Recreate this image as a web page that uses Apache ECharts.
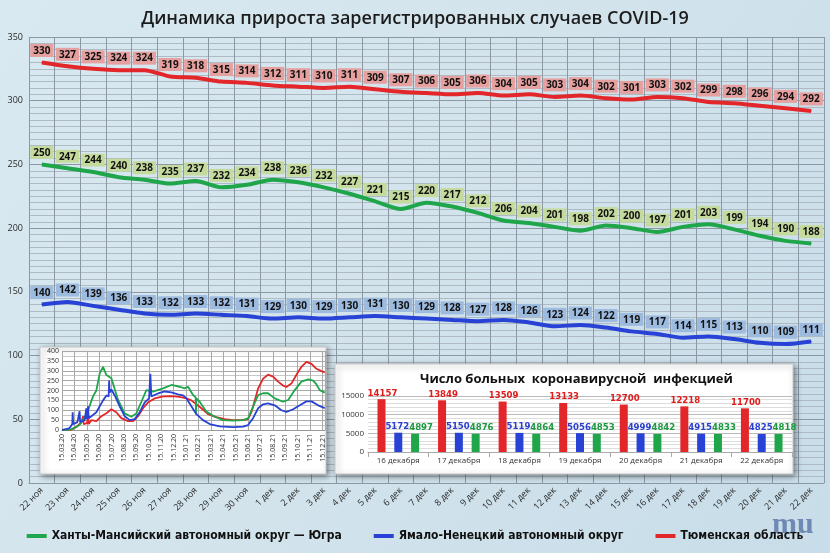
<!DOCTYPE html>
<html><head><meta charset="utf-8">
<script src="https://cdn.jsdelivr.net/npm/echarts@6.0.0/dist/echarts.min.js"></script>
<style>html,body{margin:0;padding:0;background:#d3e5ef;}#c{width:830px;height:553px;}</style>
</head><body><div id="c"></div>
<script>
// ---- main chart data ----
const days = ['22 ноя','23 ноя','24 ноя','25 ноя','26 ноя','27 ноя','28 ноя','29 ноя','30 ноя',
  '1 дек','2 дек','3 дек','4 дек','5 дек','6 дек','7 дек','8 дек','9 дек','10 дек','11 дек','12 дек',
  '13 дек','14 дек','15 дек','16 дек','17 дек','18 дек','19 дек','20 дек','21 дек','22 дек'];
const tyumen = [330,327,325,324,324,319,318,315,314,312,311,310,311,309,307,306,305,306,304,305,303,304,302,301,303,302,299,298,296,294,292];
const khmao  = [250,247,244,240,238,235,237,232,234,238,236,232,227,221,215,220,217,212,206,204,201,198,202,200,197,201,203,199,194,190,188];
const yanao  = [140,142,139,136,133,132,133,132,131,129,130,129,130,131,130,129,128,127,128,126,123,124,122,119,117,114,115,113,110,109,111];

// ---- inset line chart (x = months since 15.03.20) ----
const insetLabels = ['15.03.20','15.04.20','15.05.20','15.06.20','15.07.20','15.08.20','15.09.20','15.10.20','15.11.20','15.12.20',
  '15.01.21','15.02.21','15.03.21','15.04.21','15.05.21','15.06.21','15.07.21','15.08.21','15.09.21','15.10.21','15.11.21','15.12.21'];
const insetGreen = [[0,0],[0.75,3],[1.42,25],[2.02,85],[2.5,170],[2.77,200],[3.04,287],[3.31,320],[3.58,278],[3.98,262],[4.52,152],
  [5.05,84],[5.59,67],[5.99,84],[6.4,143],[6.8,202],[7.34,194],[8.15,211],[8.82,228],[9.49,219],[9.89,211],[10.16,219],[10.56,177],
  [10.78,165],[10.8,80],[10.83,160],[11.1,143],[11.64,93],[12.31,67],[12.98,50],[13.79,47],[14.6,50],[15.0,59],[15.4,118],[15.81,177],
  [16.21,186],[16.61,186],[17.15,160],[17.82,143],[18.23,152],[18.76,202],[19.3,245],[19.84,256],[20.25,250],[20.5,232],[20.78,202],[21.18,189]];
const insetRed = [[0,0],[0.75,2],[1.16,15],[1.56,40],[1.7,70],[1.75,30],[2.02,35],[2.1,75],[2.15,30],[2.37,50],[2.77,45],[3.17,70],[3.58,85],
  [3.98,105],[4.38,90],[4.78,60],[5.32,45],[5.73,45],[6.13,70],[6.53,110],[6.94,140],[7.47,160],[8.15,170],[8.82,172],[9.49,168],
  [10.03,160],[10.43,150],[10.83,130],[11.24,110],[11.77,80],[12.45,65],[13.12,55],[13.79,50],[14.46,50],[15.0,55],[15.27,90],
  [15.54,150],[15.81,210],[16.21,260],[16.61,280],[17.02,270],[17.42,245],[17.82,225],[18.09,218],[18.49,235],[18.9,280],[19.3,320],
  [19.7,345],[20.11,335],[20.25,330],[20.51,310],[20.91,298],[21.18,292]];
const insetBlue = [[0,0],[0.62,10],[0.83,30],[0.86,90],[0.9,30],[1.24,40],[1.42,95],[1.46,40],[1.83,50],[1.96,110],[2.0,55],[2.1,120],
  [2.15,60],[2.37,70],[2.77,90],[3.04,120],[3.2,130],[3.31,150],[3.58,175],[3.76,170],[3.8,250],[3.84,190],[3.98,205],[4.25,175],
  [4.65,120],[5.05,70],[5.46,50],[5.86,55],[6.26,90],[6.67,140],[7.02,160],[7.12,285],[7.2,170],[7.74,185],[8.28,195],[8.82,190],
  [9.35,180],[9.76,175],[10.03,160],[10.43,120],[10.83,80],[11.37,50],[11.91,30],[12.71,18],[13.79,15],[14.6,17],[15.0,25],[15.4,60],
  [15.81,110],[16.21,130],[16.61,135],[17.15,125],[17.69,100],[18.09,92],[18.63,105],[19.17,125],[19.7,145],[20.11,145],[20.25,140],
  [20.65,125],[21.18,111]];

// ---- inset bar chart ----
const barDays = ['16 декабря','17 декабря','18 декабря','19 декабря','20 декабря','21 декабря','22 декабря'];
const barTyumen = [14157,13849,13509,13133,12700,12218,11700];
const barYanao  = [5172,5150,5119,5056,4999,4915,4825];
const barKhmao  = [4897,4876,4864,4853,4842,4833,4818];

const NAME_G = 'Ханты-Мансийский автономный округ — Югра';
const NAME_B = 'Ямало-Ненецкий автономный округ';
const NAME_R = 'Тюменская область';
const RED = '#e3262a', GREEN = '#1fa54a', BLUE = '#2742d4';
const FONT = 'Open Sans';
const COND = 'DejaVu Sans Condensed';

function mainLabel(bg) {
  return {show: true, position: 'top', distance: 5, backgroundColor: bg, color: '#111',
    fontWeight: 'bold', fontSize: 10, fontFamily: FONT, padding: [2, 3, 1, 3]};
}
function barLabel(color, offset) {
  return {show: true, position: 'top', distance: 1, offset: offset, color: color,
    fontWeight: 'bold', fontSize: 9.5, fontFamily: COND};
}

const chart = echarts.init(document.getElementById('c'));
chart.setOption({
  animation: false,
  backgroundColor: new echarts.graphic.LinearGradient(0, 0, 1, 1, [
    {offset: 0, color: '#d8e9f2'}, {offset: 0.5, color: '#d2e3ec'}, {offset: 1, color: '#c8dde9'}]),
  textStyle: {fontFamily: FONT},
  title: {text: 'Динамика прироста зарегистрированных случаев COVID-19', left: 'center', top: 5,
    textStyle: {fontSize: 18, fontWeight: 600, color: '#1c1c1c', fontFamily: FONT}},
  legend: {data: [NAME_G, NAME_B, NAME_R], bottom: 6, left: 'center', itemGap: 32,
    icon: 'rect', itemWidth: 20, itemHeight: 4,
    textStyle: {fontSize: 12, fontWeight: 'bold', color: '#111', fontFamily: COND}},
  graphic: [
    {type: 'rect', zlevel: 1, z: -10, shape: {x: 40, y: 347, width: 286, height: 127},
      style: {fill: '#ffffff', stroke: '#c8c8c8', shadowBlur: 6, shadowColor: 'rgba(0,0,0,0.45)', shadowOffsetX: 2, shadowOffsetY: 2}},
    {type: 'rect', zlevel: 1, z: -10, shape: {x: 335, y: 364, width: 458, height: 110},
      style: {fill: '#ffffff', stroke: '#c8c8c8', shadowBlur: 6, shadowColor: 'rgba(0,0,0,0.45)', shadowOffsetX: 2, shadowOffsetY: 2}},
    {type: 'text', zlevel: 1, z: 10, left: 420, top: 373,
      style: {text: 'Число больных  коронавирусной  инфекцией', font: 'bold 13px "Open Sans"', fill: '#111'}},
    {type: 'text', left: 772, top: 510, style: {text: 'mu', font: 'bold 30px "Liberation Serif"', fill: '#7088b4'}}
  ],
  grid: [
    {left: 29, right: 6, top: 37, bottom: 70, containLabel: false, outerBoundsMode: 'none'},
    {left: 62, right: 505, top: 351, bottom: 123, containLabel: false, outerBoundsMode: 'none'},
    {left: 368, right: 38, top: 396, bottom: 101, containLabel: false, outerBoundsMode: 'none'}
  ],
  xAxis: [
    {type: 'category', gridIndex: 0, data: days, boundaryGap: true,
      axisLine: {show: true, lineStyle: {color: '#8c98a3'}}, axisTick: {show: false},
      splitLine: {show: true, interval: 0, lineStyle: {color: '#8c98a3'}},
      axisLabel: {rotate: 45, interval: 0, fontSize: 9, color: '#2a2a2a', margin: 6}},
    {type: 'value', gridIndex: 1, min: 0, max: 21.2, interval: 1, zlevel: 1,
      axisLine: {show: true, lineStyle: {color: '#999'}}, axisTick: {show: false},
      splitLine: {show: true, lineStyle: {color: '#a8a8a8'}},
      axisLabel: {rotate: 90, fontSize: 7, color: '#333', margin: 4,
        formatter: v => (Math.abs(v - Math.round(v)) < 1e-6 && insetLabels[Math.round(v)]) || ''}},
    {type: 'category', gridIndex: 2, data: barDays, zlevel: 1,
      axisLine: {show: true, lineStyle: {color: '#aaa'}}, axisTick: {show: true, lineStyle: {color: '#aaa'}},
      axisLabel: {fontSize: 8, color: '#333', margin: 5}}
  ],
  yAxis: [
    {type: 'value', gridIndex: 0, min: 0, max: 350, interval: 50,
      axisLine: {show: false}, axisTick: {show: false},
      axisLabel: {fontSize: 9, color: '#2a2a2a', margin: 6},
      splitLine: {show: true, lineStyle: {color: '#8c98a3'}},
      minorTick: {show: false, splitNumber: 10},
      minorSplitLine: {show: true, lineStyle: {color: '#aebbc5'}}},
    {type: 'value', gridIndex: 1, min: 0, max: 400, interval: 50, zlevel: 1,
      axisLine: {show: false}, axisTick: {show: false},
      axisLabel: {fontSize: 7, color: '#333', margin: 3},
      splitLine: {show: true, lineStyle: {color: '#a8a8a8'}},
      minorTick: {show: false, splitNumber: 2},
      minorSplitLine: {show: true, lineStyle: {color: '#c8c8c8'}}},
    {type: 'value', gridIndex: 2, min: 0, max: 15000, interval: 5000, zlevel: 1,
      axisLine: {show: false}, axisTick: {show: false},
      axisLabel: {fontSize: 8, color: '#333', margin: 4, formatter: v => String(v)},
      splitLine: {show: true, lineStyle: {color: '#bbbbbb'}},
      minorTick: {show: false, splitNumber: 5},
      minorSplitLine: {show: true, lineStyle: {color: '#dddddd'}}}
  ],
  series: [
    {name: NAME_G, type: 'line', data: khmao, smooth: 0.25, symbol: 'circle', symbolSize: 1,
      lineStyle: {color: GREEN, width: 4}, itemStyle: {color: GREEN}, label: mainLabel('#c5db9d')},
    {name: NAME_B, type: 'line', data: yanao, smooth: 0.25, symbol: 'circle', symbolSize: 1,
      lineStyle: {color: BLUE, width: 4}, itemStyle: {color: BLUE}, label: mainLabel('#9dbadf')},
    {name: NAME_R, type: 'line', data: tyumen, smooth: 0.25, symbol: 'circle', symbolSize: 1,
      lineStyle: {color: RED, width: 4}, itemStyle: {color: RED}, label: mainLabel('#e5a09f')},

    {name: 'i-red', type: 'line', xAxisIndex: 1, yAxisIndex: 1, zlevel: 1, data: insetRed, symbol: 'none',
      lineStyle: {color: RED, width: 1.8}},
    {name: 'i-green', type: 'line', xAxisIndex: 1, yAxisIndex: 1, zlevel: 1, data: insetGreen, symbol: 'none',
      lineStyle: {color: GREEN, width: 1.8}},
    {name: 'i-blue', type: 'line', xAxisIndex: 1, yAxisIndex: 1, zlevel: 1, data: insetBlue, symbol: 'none',
      lineStyle: {color: BLUE, width: 1.8}},

    {name: 'b-red', type: 'bar', xAxisIndex: 2, yAxisIndex: 2, zlevel: 1, data: barTyumen, barWidth: 8, barGap: '110%',
      itemStyle: {color: RED}, label: barLabel('#e01b1b', [1, 0])},
    {name: 'b-blue', type: 'bar', xAxisIndex: 2, yAxisIndex: 2, zlevel: 1, data: barYanao, barWidth: 8, barGap: '110%',
      itemStyle: {color: BLUE}, label: barLabel('#2a3fd0', [-1, 0])},
    {name: 'b-green', type: 'bar', xAxisIndex: 2, yAxisIndex: 2, zlevel: 1, data: barKhmao, barWidth: 8, barGap: '110%',
      itemStyle: {color: GREEN}, label: barLabel('#1a9a40', [6, 0])}
  ]
});
</script></body></html>
